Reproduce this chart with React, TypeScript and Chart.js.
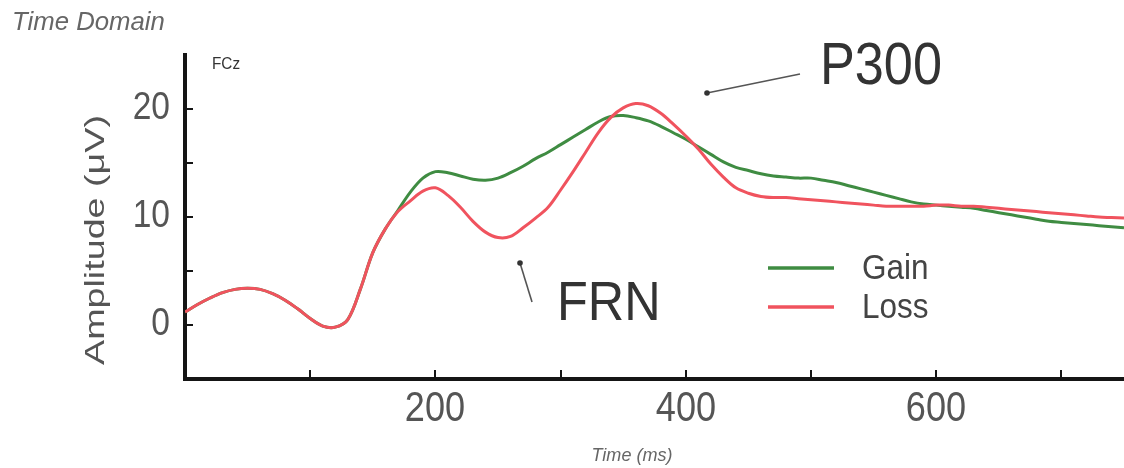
import React, { useEffect, useRef } from "react";
import { Chart, registerables } from "chart.js";

Chart.register(...registerables);

const timeMs = [
  0, 10, 20, 30, 40, 50, 60, 70, 80, 90, 100, 110, 120, 130, 140, 150, 160, 170, 180, 190,
  200, 210, 220, 230, 240, 250, 260, 270, 280, 290, 300, 310, 320, 330, 340, 350, 360, 370, 380, 390,
  400, 410, 420, 430, 440, 450, 460, 470, 480, 490, 500, 510, 520, 530, 540, 550, 560, 570, 580, 590,
  600, 610, 620, 630, 640, 650, 660, 670, 680, 690, 700, 710, 720, 730, 740, 750,
];

const gainValues = [
  1.2, 1.9, 2.5, 3.0, 3.3, 3.4, 3.3, 2.9, 2.3, 1.5, 0.6, -0.1, -0.2, 0.5, 3.3, 6.7, 8.9, 10.6, 12.3, 13.6,
  14.2, 14.1, 13.8, 13.5, 13.4, 13.6, 14.1, 14.7, 15.4, 16.0, 16.7, 17.4, 18.1, 18.8, 19.3, 19.4, 19.2, 18.9, 18.4, 17.8,
  17.2, 16.5, 15.8, 15.1, 14.6, 14.3, 14.0, 13.8, 13.7, 13.6, 13.6, 13.4, 13.2, 12.9, 12.6, 12.3, 12.0, 11.7, 11.4, 11.2,
  11.1, 11.0, 10.9, 10.8, 10.6, 10.4, 10.2, 10.0, 9.8, 9.6, 9.5, 9.4, 9.3, 9.2, 9.1, 9.0,
];

const lossValues = [
  1.2, 1.9, 2.5, 3.0, 3.3, 3.4, 3.3, 2.9, 2.3, 1.5, 0.6, -0.1, -0.2, 0.5, 3.3, 6.7, 8.9, 10.5, 11.5, 12.4,
  12.7, 12.0, 10.9, 9.6, 8.6, 8.1, 8.2, 9.0, 9.9, 10.9, 12.5, 14.2, 16.0, 17.8, 19.2, 20.1, 20.5, 20.3, 19.6, 18.6,
  17.5, 16.3, 14.9, 13.7, 12.7, 12.2, 11.9, 11.8, 11.8, 11.7, 11.6, 11.5, 11.4, 11.3, 11.2, 11.1, 11.0, 11.0, 11.0, 11.0,
  11.1, 11.1, 11.0, 11.0, 10.9, 10.8, 10.7, 10.6, 10.5, 10.4, 10.3, 10.2, 10.1, 10.0, 9.95, 9.9,
];

const xTickLabels = [200, 400, 600];
const yTickLabels = [0, 10, 20];
const seriesNames = ["Gain", "Loss"];
const seriesColors = ["#3f8c42", "#f0535e"];

const SANS = '"Liberation Sans", Arial, sans-serif';

function drawText(
  ctx: CanvasRenderingContext2D,
  s: string,
  x: number,
  y: number,
  font: string,
  color: string,
  align: CanvasTextAlign,
  sx = 1
) {
  ctx.save();
  ctx.font = font;
  ctx.fillStyle = color;
  ctx.textAlign = align;
  ctx.textBaseline = "middle";
  ctx.translate(x, y);
  ctx.scale(sx, 1);
  ctx.fillText(s, 0, 0);
  ctx.restore();
}

const decorPlugin = {
  id: "decor",
  afterDraw(chart: any) {
    const ctx: CanvasRenderingContext2D = chart.ctx;
    const xs = chart.scales.x;
    const ys = chart.scales.y;
    const area = chart.chartArea;

    // inward tick marks and tick labels from the library's scales
    ctx.save();
    ctx.strokeStyle = "#151515";
    ctx.lineWidth = 2;
    xs.ticks.forEach((t: any) => {
      const px = Math.round(xs.getPixelForValue(t.value));
      if (xTickLabels.includes(t.value)) {
        drawText(ctx, String(t.value), px, 409, `42px ${SANS}`, "#555", "center", 0.86);
      }
      if (t.value <= xs.min || t.value >= xs.max) return;
      ctx.beginPath();
      ctx.moveTo(px, area.bottom);
      ctx.lineTo(px, area.bottom - 9);
      ctx.stroke();
    });
    ys.ticks.forEach((t: any) => {
      const py = Math.round(ys.getPixelForValue(t.value));
      if (yTickLabels.includes(t.value)) {
        drawText(ctx, String(t.value), area.left - 15, py - 1, `39px ${SANS}`, "#555", "right", 0.86);
      }
      if (t.value <= ys.min || t.value >= ys.max) return;
      ctx.beginPath();
      ctx.moveTo(area.left, py);
      ctx.lineTo(area.left + 8, py);
      ctx.stroke();
    });
    ctx.restore();

    // titles
    drawText(ctx, "Time Domain", 12, 23, `italic 25px ${SANS}`, "#666", "left", 1.03);
    drawText(ctx, "FCz", 212, 64, `17px ${SANS}`, "#333", "left", 0.9);
    drawText(ctx, "Time (ms)", 632, 456, `italic 19px ${SANS}`, "#666", "center", 0.95);

    // y axis title, rotated and stretched along its length
    ctx.save();
    ctx.font = `28px ${SANS}`;
    const label = "Amplitude (\u03bcV)";
    const w = ctx.measureText(label).width;
    ctx.translate(96, 240);
    ctx.rotate(-Math.PI / 2);
    ctx.scale(250 / w, 1);
    ctx.fillStyle = "#555";
    ctx.textAlign = "center";
    ctx.textBaseline = "middle";
    ctx.fillText(label, 0, 0);
    ctx.restore();

    // annotations
    drawText(ctx, "P300", 820, 67, `60px ${SANS}`, "#333", "left", 0.87);
    drawText(ctx, "FRN", 557, 305, `56px ${SANS}`, "#333", "left", 0.9);

    ctx.save();
    ctx.strokeStyle = "#555";
    ctx.fillStyle = "#333";
    ctx.lineWidth = 1.6;
    ctx.beginPath();
    ctx.moveTo(707, 93);
    ctx.lineTo(800, 74);
    ctx.stroke();
    ctx.beginPath();
    ctx.arc(707, 93, 2.8, 0, Math.PI * 2);
    ctx.fill();
    ctx.beginPath();
    ctx.moveTo(520, 263);
    ctx.lineTo(532, 302);
    ctx.stroke();
    ctx.beginPath();
    ctx.arc(520, 263, 2.8, 0, Math.PI * 2);
    ctx.fill();
    ctx.restore();

    // legend
    const rows = [268, 307];
    seriesNames.forEach((name, i) => {
      ctx.save();
      ctx.strokeStyle = seriesColors[i];
      ctx.lineWidth = 3.5;
      ctx.beginPath();
      ctx.moveTo(768, rows[i]);
      ctx.lineTo(834, rows[i]);
      ctx.stroke();
      ctx.restore();
      drawText(ctx, name, 862, rows[i] + 1, `35px ${SANS}`, "#444", "left", 0.9);
    });
  },
};

export default function App() {
  const canvasRef = useRef<HTMLCanvasElement | null>(null);

  useEffect(() => {
    document.body.style.margin = "0";
    const canvas = canvasRef.current;
    if (!canvas) return;
    const chart = new Chart(canvas, {
      type: "line",
      data: {
        datasets: [
          {
            label: seriesNames[0],
            data: timeMs.map((t, i) => ({ x: t, y: gainValues[i] })),
            borderColor: seriesColors[0],
            borderWidth: 3,
            pointRadius: 0,
            tension: 0.35,
            fill: false,
            order: 1,
          },
          {
            label: seriesNames[1],
            data: timeMs.map((t, i) => ({ x: t, y: lossValues[i] })),
            borderColor: seriesColors[1],
            borderWidth: 3,
            pointRadius: 0,
            tension: 0.35,
            fill: false,
            order: 0,
          },
        ],
      },
      options: {
        animation: false,
        responsive: false,
        devicePixelRatio: 1,
        layout: { padding: { top: 55, right: 0, bottom: 0, left: 0 } },
        plugins: {
          legend: { display: false },
          tooltip: { enabled: false },
          title: { display: false },
        },
        scales: {
          x: {
            type: "linear",
            min: 0,
            max: 750,
            afterFit: (s: any) => {
              s.height = 89;
              s.paddingLeft = 0;
              s.paddingRight = 0;
            },
            grid: { display: false, drawTicks: false },
            border: { display: true, width: 4, color: "#151515" },
            ticks: { stepSize: 100, autoSkip: false, display: false },
          },
          y: {
            type: "linear",
            min: -5,
            max: 25,
            afterFit: (s: any) => {
              s.width = 185;
              s.paddingTop = 0;
              s.paddingBottom = 0;
            },
            grid: { display: false, drawTicks: false },
            border: { display: true, width: 4, color: "#151515" },
            ticks: { stepSize: 5, autoSkip: false, display: false },
          },
        },
      },
      plugins: [decorPlugin],
    });
    return () => chart.destroy();
  }, []);

  return (
    <div style={{ width: 1124, height: 468, background: "#fff" }}>
      <canvas ref={canvasRef} width={1124} height={468} />
    </div>
  );
}
